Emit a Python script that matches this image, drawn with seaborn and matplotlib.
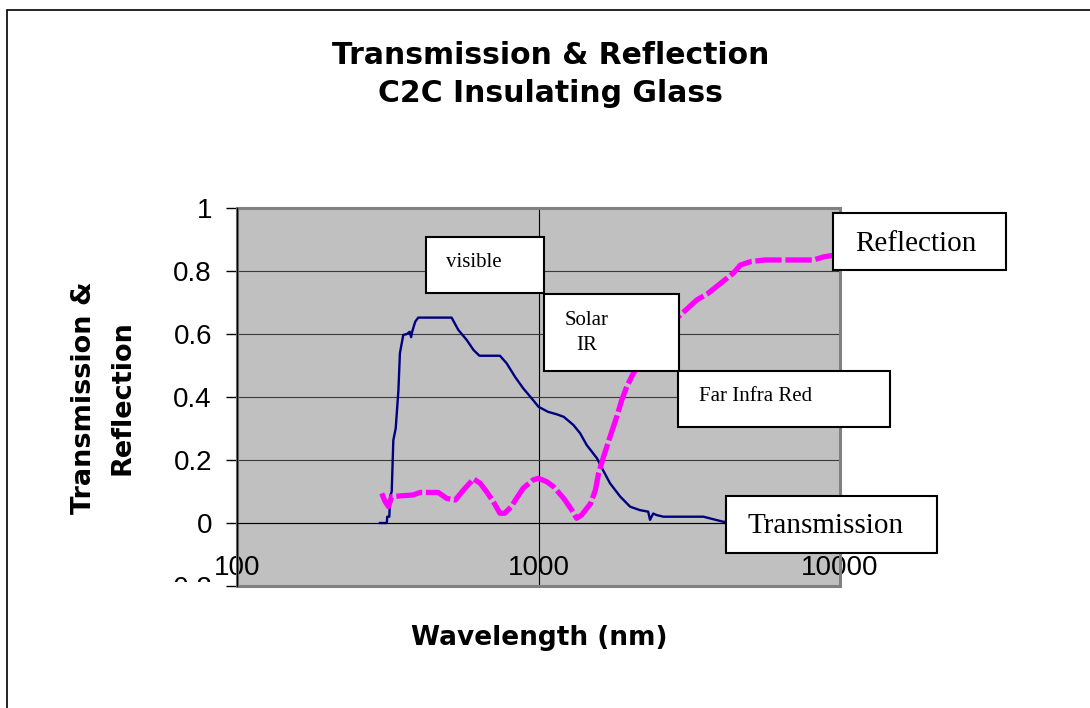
import matplotlib
matplotlib.use("Agg")
import matplotlib.pyplot as plt
import seaborn as sns
import pandas as pd
from matplotlib.patches import Rectangle
from matplotlib.transforms import Bbox, TransformedBbox
from matplotlib.ticker import NullLocator

# dados (comprimento de onda em nm)
trans_wl = [298, 314, 315, 320, 322, 326, 330, 336, 343, 347, 356, 366, 374, 378,
            381, 390, 399, 515, 542, 578, 609, 637, 745, 784, 836, 889, 960, 1000,
            1075, 1150, 1213, 1306, 1374, 1444, 1564, 1624, 1727, 1866, 2012, 2166,
            2311, 2344, 2400, 2468, 2596, 3524, 4098, 4600]
trans_val = [0.0, 0.0, 0.02, 0.02, 0.084, 0.10, 0.263, 0.30, 0.42, 0.539, 0.597, 0.60,
             0.607, 0.59, 0.607, 0.639, 0.652, 0.652, 0.613, 0.581, 0.549, 0.531, 0.531,
             0.507, 0.464, 0.428, 0.39, 0.369, 0.353, 0.345, 0.337, 0.311, 0.285, 0.248,
             0.205, 0.174, 0.126, 0.084, 0.052, 0.041, 0.036, 0.01, 0.03, 0.025, 0.02,
             0.02, 0.004, 0.0]

refl_wl = [302, 310, 318, 326, 347, 384, 405, 465, 496, 530, 564, 609, 641, 673, 708,
           745, 773, 813, 845, 889, 960, 1000, 1065, 1123, 1213, 1290, 1338, 1389, 1489,
           1545, 1582, 1643, 1727, 1817, 1888, 1962, 2012, 2063, 2400, 2800, 3350, 3650,
           4426, 4673, 5069, 5614, 7200, 8170, 8830, 9400, 9800]
refl_val = [0.094, 0.068, 0.052, 0.084, 0.086, 0.089, 0.097, 0.097, 0.078, 0.073, 0.105,
            0.14, 0.126, 0.099, 0.068, 0.031, 0.031, 0.052, 0.078, 0.11, 0.137, 0.142,
            0.131, 0.115, 0.078, 0.041, 0.015, 0.025, 0.062, 0.105, 0.158, 0.21, 0.274,
            0.337, 0.39, 0.433, 0.454, 0.475, 0.56, 0.64, 0.708, 0.729, 0.793, 0.819,
            0.83, 0.835, 0.835, 0.835, 0.845, 0.849, 0.85]

y_ticks = [-0.2, 0, 0.2, 0.4, 0.6, 0.8, 1]
y_tick_labels = ["-0.2", "0", "0.2", "0.4", "0.6", "0.8", "1"]
x_ticks = [100, 1000, 10000]
x_tick_labels = ["100", "1000", "10000"]

W, H = 1090, 708

plt.rcParams["font.family"] = ["Liberation Sans", "DejaVu Sans"]


def fx(px):
    return px / W


def fy(py):
    return 1 - py / H


def caixa(x0, y0, x1, y1):
    # caixa branca com borda preta (coordenadas em pixel)
    r = Rectangle((fx(x0), fy(y1)), fx(x1) - fx(x0), fy(y0) - fy(y1),
                  transform=fig.transFigure, facecolor="white",
                  edgecolor="black", linewidth=1.5)
    fig.add_artist(r)


fig = plt.figure(figsize=(W / 100, H / 100), dpi=100)
fig.patch.set_facecolor("white")

# borda da area do grafico
fig.add_artist(Rectangle((fx(7), -0.5), 1.5, fy(10) + 0.5, transform=fig.transFigure,
                         fill=False, edgecolor="black", linewidth=1.2))

ax = fig.add_axes([fx(237), fy(586), fx(840) - fx(237), fy(208) - fy(586)])
ax.set_facecolor("#C0C0C0")

df_t = pd.DataFrame({"wl": trans_wl, "v": trans_val})
df_r = pd.DataFrame({"wl": refl_wl, "v": refl_val})

sns.lineplot(data=df_t, x="wl", y="v", ax=ax, color="#000080", linewidth=1.7,
             estimator=None, sort=False)
sns.lineplot(data=df_r, x="wl", y="v", ax=ax, color="#FF00FF", linewidth=3.8,
             estimator=None, sort=False)
ax.lines[-1].set_dashes((5, 0.7))
ax.lines[-1].set_dash_capstyle("butt")

# eixo x cruzando em zero (estilo Excel) - antes dos ticks, pois reinicia os ticks
ax.spines["bottom"].set_position(("data", 0))
ax.spines["bottom"].set_color("black")
ax.spines["bottom"].set_linewidth(0.8)
ax.spines["left"].set_color("black")
ax.spines["left"].set_linewidth(1)
ax.spines["left"].set_zorder(3)
ax.spines["top"].set_visible(False)
ax.spines["right"].set_visible(False)

ax.set_xscale("log")
ax.set_xlim(100, 10000)
ax.set_ylim(-0.2, 1)
ax.xaxis.set_minor_locator(NullLocator())
ax.set_xticks(x_ticks, x_tick_labels)
ax.set_yticks(y_ticks, y_tick_labels)
ax.set_xlabel("")
ax.set_ylabel("")

ax.tick_params(axis="x", length=0, pad=23, labelsize=20)
ax.tick_params(axis="y", length=8, width=1, pad=10, color="black", labelsize=20)

ax.add_patch(Rectangle((0, 0), 1, 1, transform=ax.transAxes, fill=False,
                       edgecolor="#808080", linewidth=2.2, clip_on=False, zorder=1))

ax.set_axisbelow(True)
ax.yaxis.grid(True, color="#3a3a3a", linewidth=0.8)
ax.xaxis.grid(True, color="black", linewidth=0.8)

# rotulo -0.2 cortado como no original
fig.canvas.draw()
clip = TransformedBbox(Bbox([[0, fy(582)], [1, 1]]), fig.transFigure)
for lbl in ax.get_yticklabels():
    if lbl.get_text() == "-0.2":
        lbl.set_clip_box(clip)
        lbl.set_clip_on(True)

# titulos
fig.text(fx(551), fy(56), "Transmission & Reflection", ha="center", va="center",
         fontsize=21.5, fontweight="bold", family="DejaVu Sans")
fig.text(fx(550), fy(94), "C2C Insulating Glass", ha="center", va="center",
         fontsize=21.5, fontweight="bold", family="DejaVu Sans")
fig.text(fx(539), fy(638), "Wavelength (nm)", ha="center", va="center",
         fontsize=19, fontweight="bold", family="DejaVu Sans")
fig.text(fx(84), fy(398), "Transmission &", ha="center", va="center", rotation=90,
         fontsize=19.5, fontweight="bold", family="DejaVu Sans")
fig.text(fx(123), fy(398), "Reflection", ha="center", va="center", rotation=90,
         fontsize=19.5, fontweight="bold", family="DejaVu Sans")

# caixas de texto
serif = "Liberation Serif"
caixa(426, 237, 544, 293)
fig.text(fx(446), fy(267), "visible", family=serif, fontsize=15, va="baseline")
caixa(544, 294, 679, 371)
fig.text(fx(565), fy(325), "Solar", family=serif, fontsize=15, va="baseline")
fig.text(fx(576), fy(350), "IR", family=serif, fontsize=15, va="baseline")
caixa(678, 371, 890, 427)
fig.text(fx(699), fy(401), "Far Infra Red", family=serif, fontsize=15, va="baseline")
caixa(833, 213, 1006, 270)
fig.text(fx(855), fy(251), "Reflection", family=serif, fontsize=21, va="baseline")
caixa(726, 496, 937, 553)
fig.text(fx(747), fy(533), "Transmission", family=serif, fontsize=21, va="baseline")

fig.savefig("out.png", dpi=100)
